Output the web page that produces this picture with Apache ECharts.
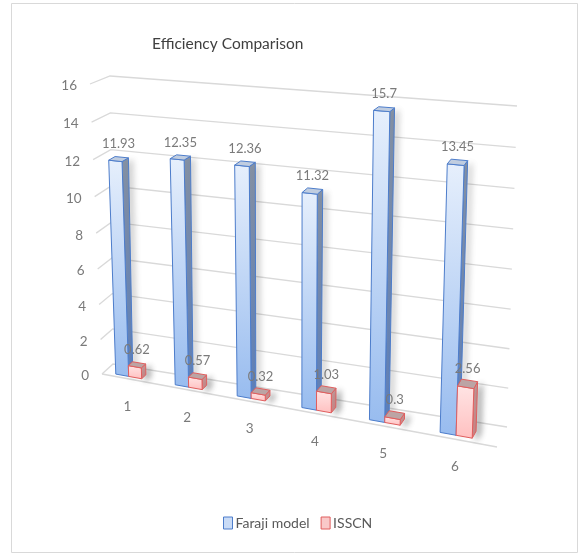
<!DOCTYPE html>
<html>
<head>
<meta charset="utf-8">
<script src="https://cdn.jsdelivr.net/npm/echarts@6/dist/echarts.min.js"></script>
<style>
  html, body { margin: 0; padding: 0; background: #ffffff; }
  #chart { width: 581px; height: 556px; }
</style>
</head>
<body>
<div id="chart"></div>
<script>
// ---- data ----
const categories = ['1', '2', '3', '4', '5', '6'];
const farajiModel = [11.93, 12.35, 12.36, 11.32, 15.7, 13.45];
const isscn = [0.62, 0.57, 0.32, 1.03, 0.3, 2.56];
const yTicks = [0, 2, 4, 6, 8, 10, 12, 14, 16];
const seriesNames = ['Faraji model', 'ISSCN'];

// ---- 3-D frame: corners of the back wall and the front plane (px) ----
const BACK_WALL = { bl: [113, 364], br: [507, 427], tr: [517, 106], tl: [110, 76] };
const FRONT_PLANE = { bl: [102, 374], br: [497, 447], tr: [510, 117], tl: [90, 84] };
const X_MIN = -0.42, X_MAX = categories.length - 0.42;
const Y_MAX = yTicks[yTicks.length - 1];
const BAR_W = 0.22;          // width of one column, in category units
const DEPTH_FRONT = 0.2;     // column front face, 0 = front plane, 1 = back wall
const DEPTH_BACK = 0.56;     // column back face
const FONT_FAMILY = 'Lato, "Open Sans", sans-serif';
const LABEL_FONT = '13px ' + FONT_FAMILY;
const AXIS_FONT = '13.5px ' + FONT_FAMILY;
const TEXT_GREY = '#7a7a7a';

// unit square -> quadrilateral (projective)
function quadMap(q) {
  const [x0, y0] = q.bl, [x1, y1] = q.br, [x2, y2] = q.tr, [x3, y3] = q.tl;
  const dx1 = x1 - x2, dx2 = x3 - x2, dx3 = x0 - x1 + x2 - x3;
  const dy1 = y1 - y2, dy2 = y3 - y2, dy3 = y0 - y1 + y2 - y3;
  const den = dx1 * dy2 - dx2 * dy1;
  const g = (dx3 * dy2 - dx2 * dy3) / den;
  const h = (dx1 * dy3 - dx3 * dy1) / den;
  const a = x1 - x0 + g * x1, b = x3 - x0 + h * x3, c = x0;
  const d = y1 - y0 + g * y1, e = y3 - y0 + h * y3, f = y0;
  return (s, t) => {
    const w = g * s + h * t + 1;
    return [(a * s + b * t + c) / w, (d * s + e * t + f) / w];
  };
}
const backMap = quadMap(BACK_WALL);
const frontMap = quadMap(FRONT_PLANE);

// (category position, value, depth) -> screen, via the cartesian scales
function projector(api) {
  const o = api.coord([X_MIN, 0]);
  const e = api.coord([X_MAX, Y_MAX]);
  return (u, v, d) => {
    const p = api.coord([u, v]);
    const s = (p[0] - o[0]) / (e[0] - o[0]);
    const t = (p[1] - o[1]) / (e[1] - o[1]);
    const B = backMap(s, t), F = frontMap(s, t);
    return [F[0] + (B[0] - F[0]) * d, F[1] + (B[1] - F[1]) * d];
  };
}

const grad = (c0, c1) => new echarts.graphic.LinearGradient(0, 0, 0, 1, [
  { offset: 0, color: c0 }, { offset: 1, color: c1 }
]);

const BAR_STYLES = [
  { front: ['#e6effc', '#98bcef'], side: ['#8793a6', '#5f82bd'], top: '#c0cde0',
    edge: '#4d7dcb', legendFill: '#c9dbf6', shadow: 'rgba(0,0,0,0.18)' },
  { front: ['#ffe4e4', '#ffc0c0'], side: ['#c29c9c', '#d08a8a'], top: '#bca4a4',
    edge: '#e05e5e', legendFill: '#f9c9c9', shadow: 'rgba(0,0,0,0.38)' }
];

function barSeries(k, values) {
  const st = BAR_STYLES[k];
  return {
    type: 'custom',
    name: seriesNames[k],
    z: 3 + k,
    data: values.map((v, i) => [i, v]),
    itemStyle: { color: st.legendFill, borderColor: st.edge },
    renderItem(params, api) {
      const P = projector(api);
      const i = api.value(0), v = api.value(1);
      const u0 = i - BAR_W + k * BAR_W, u1 = u0 + BAR_W;
      const df = DEPTH_FRONT, db = DEPTH_BACK;
      const front = [P(u0, 0, df), P(u1, 0, df), P(u1, v, df), P(u0, v, df)];
      const side = [P(u1, 0, df), P(u1, 0, db), P(u1, v, db), P(u1, v, df)];
      const top = [P(u0, v, df), P(u1, v, df), P(u1, v, db), P(u0, v, db)];
      const lab = P((u0 + u1) / 2, v, (df + db) / 2);
      const edge = { stroke: st.edge, lineWidth: 1, lineJoin: 'round' };
      return {
        type: 'group',
        children: [
          { type: 'polygon', shape: { points: side },
            style: Object.assign({ fill: grad(st.side[0], st.side[1]),
              shadowColor: st.shadow, shadowBlur: 6, shadowOffsetX: 4, shadowOffsetY: 2 }, edge) },
          { type: 'polygon', shape: { points: front },
            style: Object.assign({ fill: grad(st.front[0], st.front[1]) }, edge) },
          { type: 'polygon', shape: { points: top },
            style: Object.assign({ fill: st.top }, edge) },
          { type: 'text', x: lab[0], y: lab[1] - 15,
            style: { text: String(v), font: LABEL_FONT, fill: TEXT_GREY,
              align: 'center', verticalAlign: 'middle' } }
        ]
      };
    }
  };
}

// walls: value gridlines on the back wall, side-wall ticks, floor edge, value labels
const wallSeries = {
  type: 'custom',
  silent: true,
  z: 1,
  data: yTicks.map(t => [X_MIN, t]),
  renderItem(params, api) {
    const P = projector(api);
    const t = api.value(1);
    const line = { stroke: '#d9d9d9', lineWidth: 1.3 };
    const a = P(X_MIN, t, 0), b = P(X_MIN, t, 1), c = P(X_MAX, t, 1);
    const children = [
      { type: 'polyline', shape: { points: [a, b, c] }, style: Object.assign({ fill: null }, line) },
      { type: 'text', x: a[0] - 13, y: a[1] + 2,
        style: { text: String(t), font: AXIS_FONT, fill: TEXT_GREY, align: 'right', verticalAlign: 'middle' } }
    ];
    if (t === 0) {
      const f = P(X_MAX, 0, 0);
      children.push({ type: 'line', shape: { x1: a[0], y1: a[1], x2: f[0], y2: f[1] }, style: line });
    }
    return { type: 'group', children };
  }
};

// category labels along the front of the floor
const categorySeries = {
  type: 'custom',
  silent: true,
  z: 2,
  data: categories.map((c, i) => [i, 0]),
  renderItem(params, api) {
    const P = projector(api);
    const i = api.value(0);
    const p = P(i, 0, 0);
    return { type: 'text', x: p[0] + 1, y: p[1] + 28,
      style: { text: categories[i], font: AXIS_FONT, fill: TEXT_GREY, align: 'center', verticalAlign: 'middle' } };
  }
};

const chart = echarts.init(document.getElementById('chart'), null, { renderer: 'canvas' });
chart.setOption({
  animation: false,
  backgroundColor: '#ffffff',
  title: {
    text: 'Efficiency Comparison',
    left: 147, top: 31,
    textStyle: { fontFamily: FONT_FAMILY, fontSize: 15.5, fontWeight: 'normal', color: '#404040' }
  },
  graphic: [{
    type: 'rect', silent: true, z: -1,
    shape: { x: 11.5, y: 3.5, width: 566, height: 549 },
    style: { fill: null, stroke: '#d9d9d9', lineWidth: 1 }
  }],
  legend: {
    left: 218, top: 511,
    itemWidth: 9, itemHeight: 12, itemGap: 11,
    icon: 'rect',
    textStyle: { fontFamily: FONT_FAMILY, fontSize: 14, color: '#595959', padding: [0, 0, 0, -2] },
    data: seriesNames.map((n, k) => ({
      name: n,
      itemStyle: { color: BAR_STYLES[k].legendFill, borderColor: BAR_STYLES[k].edge, borderWidth: 1 }
    }))
  },
  grid: { left: 0, right: 0, top: 0, bottom: 0 },
  xAxis: { type: 'value', min: X_MIN, max: X_MAX, show: false },
  yAxis: { type: 'value', min: 0, max: Y_MAX, show: false },
  series: [wallSeries, categorySeries, barSeries(0, farajiModel), barSeries(1, isscn)]
});
</script>
</body>
</html>
